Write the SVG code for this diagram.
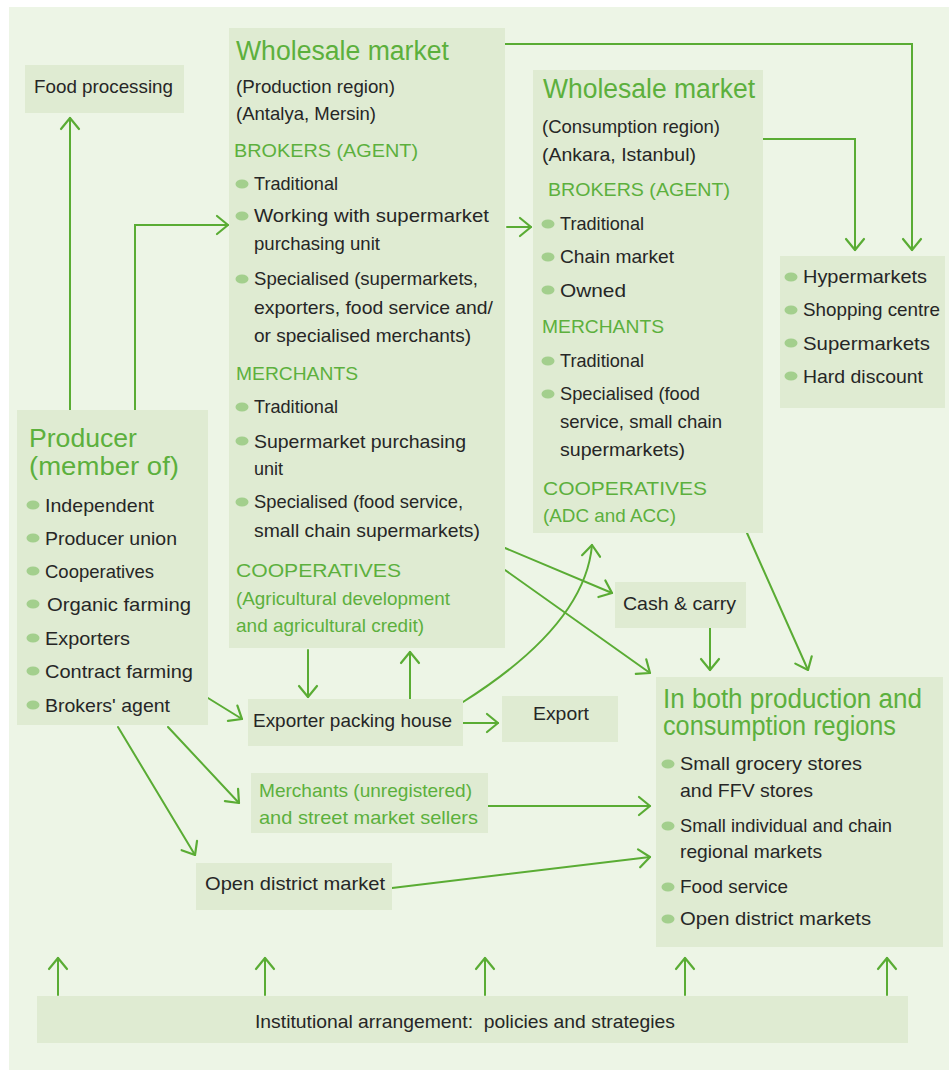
<svg xmlns="http://www.w3.org/2000/svg" width="949" height="1072" viewBox="0 0 949 1072">
  <defs>
    <style>
      .t { font-family: "Liberation Sans", Arial, sans-serif; font-size: 19px; fill: #262626; }
      .g { fill: #5cb03d; }
      .h { font-size: 27px; fill: #5cb03d; }
      .hs { font-size: 25px; }
      .box { fill: #dfebd2; }
      .b { fill: #a3cf8d; }
      .c { fill: none; stroke: #5aac34; stroke-width: 2; stroke-linecap: round; }
    </style>
    <marker id="ah" markerUnits="userSpaceOnUse" viewBox="-14 -11 16 22" markerWidth="16" markerHeight="22" refX="0" refY="0" orient="auto">
      <path d="M-11,-9 L0,0 L-11,9" fill="none" stroke="#5aac34" stroke-width="2.2" stroke-linecap="round" stroke-linejoin="round"/>
    </marker>
  </defs>

  <!-- background panel -->
  <rect x="0" y="0" width="949" height="1072" fill="#ffffff"/>
  <rect x="9" y="7" width="940" height="1063" fill="#edf5e6"/>

  <!-- connectors -->
  <g id="connectors" class="c">
    <path d="M70,410 V118" marker-end="url(#ah)"/>
    <path d="M135,410 V225 H228" marker-end="url(#ah)"/>
    <path d="M505,44 H912 V250" marker-end="url(#ah)"/>
    <path d="M763,139 H855 V250" marker-end="url(#ah)"/>
    <path d="M507,227 H531" marker-end="url(#ah)"/>
    <path d="M505,548 L612,593" marker-end="url(#ah)"/>
    <path d="M505,570 L650,673" marker-end="url(#ah)"/>
    <path d="M747,533 L808,670" marker-end="url(#ah)"/>
    <path d="M710,628 V670" marker-end="url(#ah)"/>
    <path d="M308,650 V697" marker-end="url(#ah)"/>
    <path d="M410,699 V652" marker-end="url(#ah)"/>
    <path d="M463,702 Q585,625 592,545" marker-end="url(#ah)"/>
    <path d="M463,723 H498" marker-end="url(#ah)"/>
    <path d="M208,698 L242,719" marker-end="url(#ah)"/>
    <path d="M168,727 L239,803" marker-end="url(#ah)"/>
    <path d="M118,727 L195,855" marker-end="url(#ah)"/>
    <path d="M488,806 H650" marker-end="url(#ah)"/>
    <path d="M392,888 L650,857" marker-end="url(#ah)"/>
    <path d="M58,995 V958" marker-end="url(#ah)"/>
    <path d="M265,995 V958" marker-end="url(#ah)"/>
    <path d="M485,995 V958" marker-end="url(#ah)"/>
    <path d="M685,995 V958" marker-end="url(#ah)"/>
    <path d="M887,995 V958" marker-end="url(#ah)"/>
  </g>

  <g id="food-processing">
    <rect class="box" x="25" y="65" width="159" height="48"/>
    <text class="t" x="34" y="93" textLength="139" lengthAdjust="spacingAndGlyphs">Food processing</text>
  </g>

  <g id="wholesale-production">
    <rect class="box" x="229" y="28" width="276" height="620"/>
    <text class="t h" x="236" y="60" textLength="213" lengthAdjust="spacingAndGlyphs">Wholesale market</text>
    <text class="t" x="236" y="93" textLength="159" lengthAdjust="spacingAndGlyphs">(Production region)</text>
    <text class="t" x="236" y="120" textLength="140" lengthAdjust="spacingAndGlyphs">(Antalya, Mersin)</text>
    <text class="t g" x="234" y="157" textLength="184" lengthAdjust="spacingAndGlyphs">BROKERS (AGENT)</text>
    <ellipse class="b" cx="242" cy="184" rx="6.5" ry="4.5"/>
    <text class="t" x="254" y="190" textLength="84" lengthAdjust="spacingAndGlyphs">Traditional</text>
    <ellipse class="b" cx="242" cy="216" rx="6.5" ry="4.5"/>
    <text class="t" x="254" y="222" textLength="235" lengthAdjust="spacingAndGlyphs">Working with supermarket</text>
    <text class="t" x="254" y="250" textLength="126" lengthAdjust="spacingAndGlyphs">purchasing unit</text>
    <ellipse class="b" cx="242" cy="279" rx="6.5" ry="4.5"/>
    <text class="t" x="254" y="285" textLength="224" lengthAdjust="spacingAndGlyphs">Specialised (supermarkets,</text>
    <text class="t" x="254" y="314" textLength="239" lengthAdjust="spacingAndGlyphs">exporters, food service and/</text>
    <text class="t" x="254" y="342" textLength="217" lengthAdjust="spacingAndGlyphs">or specialised merchants)</text>
    <text class="t g" x="236" y="380" textLength="122" lengthAdjust="spacingAndGlyphs">MERCHANTS</text>
    <ellipse class="b" cx="242" cy="407" rx="6.5" ry="4.5"/>
    <text class="t" x="254" y="413" textLength="84" lengthAdjust="spacingAndGlyphs">Traditional</text>
    <ellipse class="b" cx="242" cy="441" rx="6.5" ry="4.5"/>
    <text class="t" x="254" y="448" textLength="212" lengthAdjust="spacingAndGlyphs">Supermarket purchasing</text>
    <text class="t" x="254" y="475" textLength="29" lengthAdjust="spacingAndGlyphs">unit</text>
    <ellipse class="b" cx="242" cy="502" rx="6.5" ry="4.5"/>
    <text class="t" x="254" y="508" textLength="209" lengthAdjust="spacingAndGlyphs">Specialised (food service,</text>
    <text class="t" x="254" y="537" textLength="226" lengthAdjust="spacingAndGlyphs">small chain supermarkets)</text>
    <text class="t g" x="236" y="577" textLength="165" lengthAdjust="spacingAndGlyphs">COOPERATIVES</text>
    <text class="t g" x="236" y="605" textLength="214" lengthAdjust="spacingAndGlyphs">(Agricultural development</text>
    <text class="t g" x="236" y="632" textLength="188" lengthAdjust="spacingAndGlyphs">and agricultural credit)</text>
  </g>

  <g id="wholesale-consumption">
    <rect class="box" x="533" y="70" width="230" height="463"/>
    <text class="t h" x="543" y="98" textLength="212" lengthAdjust="spacingAndGlyphs">Wholesale market</text>
    <text class="t" x="542" y="133" textLength="178" lengthAdjust="spacingAndGlyphs">(Consumption region)</text>
    <text class="t" x="542" y="161" textLength="154" lengthAdjust="spacingAndGlyphs">(Ankara, Istanbul)</text>
    <text class="t g" x="548" y="196" textLength="182" lengthAdjust="spacingAndGlyphs">BROKERS (AGENT)</text>
    <ellipse class="b" cx="548" cy="224" rx="6.5" ry="4.5"/>
    <text class="t" x="560" y="230" textLength="84" lengthAdjust="spacingAndGlyphs">Traditional</text>
    <ellipse class="b" cx="548" cy="257" rx="6.5" ry="4.5"/>
    <text class="t" x="560" y="263" textLength="114" lengthAdjust="spacingAndGlyphs">Chain market</text>
    <ellipse class="b" cx="548" cy="290" rx="6.5" ry="4.5"/>
    <text class="t" x="560" y="297" textLength="66" lengthAdjust="spacingAndGlyphs">Owned</text>
    <text class="t g" x="542" y="333" textLength="122" lengthAdjust="spacingAndGlyphs">MERCHANTS</text>
    <ellipse class="b" cx="548" cy="361" rx="6.5" ry="4.5"/>
    <text class="t" x="560" y="367" textLength="84" lengthAdjust="spacingAndGlyphs">Traditional</text>
    <ellipse class="b" cx="548" cy="394" rx="6.5" ry="4.5"/>
    <text class="t" x="560" y="400" textLength="140" lengthAdjust="spacingAndGlyphs">Specialised (food</text>
    <text class="t" x="560" y="428" textLength="162" lengthAdjust="spacingAndGlyphs">service, small chain</text>
    <text class="t" x="560" y="456" textLength="125" lengthAdjust="spacingAndGlyphs">supermarkets)</text>
    <text class="t g" x="543" y="495" textLength="164" lengthAdjust="spacingAndGlyphs">COOPERATIVES</text>
    <text class="t g" x="543" y="522" textLength="133" lengthAdjust="spacingAndGlyphs">(ADC and ACC)</text>
  </g>

  <g id="retail-chains">
    <rect class="box" x="780" y="256" width="165" height="152"/>
    <ellipse class="b" cx="791" cy="277" rx="6.5" ry="4.5"/>
    <text class="t" x="803" y="283" textLength="124" lengthAdjust="spacingAndGlyphs">Hypermarkets</text>
    <ellipse class="b" cx="791" cy="310" rx="6.5" ry="4.5"/>
    <text class="t" x="803" y="316" textLength="137" lengthAdjust="spacingAndGlyphs">Shopping centre</text>
    <ellipse class="b" cx="791" cy="343" rx="6.5" ry="4.5"/>
    <text class="t" x="803" y="350" textLength="127" lengthAdjust="spacingAndGlyphs">Supermarkets</text>
    <ellipse class="b" cx="791" cy="376" rx="6.5" ry="4.5"/>
    <text class="t" x="803" y="383" textLength="120" lengthAdjust="spacingAndGlyphs">Hard discount</text>
  </g>

  <g id="producer">
    <rect class="box" x="17" y="410" width="191" height="315"/>
    <text class="t h hs" x="29" y="447" textLength="108" lengthAdjust="spacingAndGlyphs">Producer</text>
    <text class="t h hs" x="29" y="475" textLength="150" lengthAdjust="spacingAndGlyphs">(member of)</text>
    <ellipse class="b" cx="33" cy="505" rx="6.5" ry="4.5"/>
    <text class="t" x="45" y="512" textLength="109" lengthAdjust="spacingAndGlyphs">Independent</text>
    <ellipse class="b" cx="33" cy="538" rx="6.5" ry="4.5"/>
    <text class="t" x="45" y="545" textLength="132" lengthAdjust="spacingAndGlyphs">Producer union</text>
    <ellipse class="b" cx="33" cy="571" rx="6.5" ry="4.5"/>
    <text class="t" x="45" y="578" textLength="109" lengthAdjust="spacingAndGlyphs">Cooperatives</text>
    <ellipse class="b" cx="33" cy="604" rx="6.5" ry="4.5"/>
    <text class="t" x="47" y="611" textLength="144" lengthAdjust="spacingAndGlyphs">Organic farming</text>
    <ellipse class="b" cx="33" cy="638" rx="6.5" ry="4.5"/>
    <text class="t" x="45" y="645" textLength="85" lengthAdjust="spacingAndGlyphs">Exporters</text>
    <ellipse class="b" cx="33" cy="671" rx="6.5" ry="4.5"/>
    <text class="t" x="45" y="678" textLength="148" lengthAdjust="spacingAndGlyphs">Contract farming</text>
    <ellipse class="b" cx="33" cy="705" rx="6.5" ry="4.5"/>
    <text class="t" x="45" y="712" textLength="125" lengthAdjust="spacingAndGlyphs">Brokers' agent</text>
  </g>

  <g id="exporter-packing-house">
    <rect class="box" x="248" y="699" width="215" height="47"/>
    <text class="t" x="253" y="727" textLength="199" lengthAdjust="spacingAndGlyphs">Exporter packing house</text>
  </g>

  <g id="export">
    <rect class="box" x="502" y="696" width="116" height="46"/>
    <text class="t" x="533" y="720" textLength="56" lengthAdjust="spacingAndGlyphs">Export</text>
  </g>

  <g id="cash-and-carry">
    <rect class="box" x="615" y="582" width="131" height="46"/>
    <text class="t" x="623" y="610" textLength="113" lengthAdjust="spacingAndGlyphs">Cash &amp; carry</text>
  </g>

  <g id="street-merchants">
    <rect class="box" x="251" y="773" width="237" height="60"/>
    <text class="t g" x="259" y="797" textLength="213" lengthAdjust="spacingAndGlyphs">Merchants (unregistered)</text>
    <text class="t g" x="259" y="824" textLength="219" lengthAdjust="spacingAndGlyphs">and street market sellers</text>
  </g>

  <g id="open-district-market">
    <rect class="box" x="196" y="863" width="196" height="47"/>
    <text class="t" x="205" y="890" textLength="180" lengthAdjust="spacingAndGlyphs">Open district market</text>
  </g>

  <g id="both-regions">
    <rect class="box" x="656" y="677" width="287" height="270"/>
    <text class="t h" x="663" y="708" textLength="259" lengthAdjust="spacingAndGlyphs">In both production and</text>
    <text class="t h" x="663" y="735" textLength="233" lengthAdjust="spacingAndGlyphs">consumption regions</text>
    <ellipse class="b" cx="668" cy="764" rx="6.5" ry="4.5"/>
    <text class="t" x="680" y="770" textLength="182" lengthAdjust="spacingAndGlyphs">Small grocery stores</text>
    <text class="t" x="680" y="797" textLength="133" lengthAdjust="spacingAndGlyphs">and FFV stores</text>
    <ellipse class="b" cx="668" cy="826" rx="6.5" ry="4.5"/>
    <text class="t" x="680" y="832" textLength="212" lengthAdjust="spacingAndGlyphs">Small individual and chain</text>
    <text class="t" x="680" y="858" textLength="142" lengthAdjust="spacingAndGlyphs">regional markets</text>
    <ellipse class="b" cx="668" cy="887" rx="6.5" ry="4.5"/>
    <text class="t" x="680" y="893" textLength="108" lengthAdjust="spacingAndGlyphs">Food service</text>
    <ellipse class="b" cx="668" cy="919" rx="6.5" ry="4.5"/>
    <text class="t" x="680" y="925" textLength="191" lengthAdjust="spacingAndGlyphs">Open district markets</text>
  </g>

  <g id="institutional-arrangement">
    <rect class="box" x="37" y="996" width="871" height="47"/>
    <text class="t" x="255" y="1028" textLength="420" lengthAdjust="spacingAndGlyphs" xml:space="preserve">Institutional arrangement:  policies and strategies</text>
  </g>
</svg>
